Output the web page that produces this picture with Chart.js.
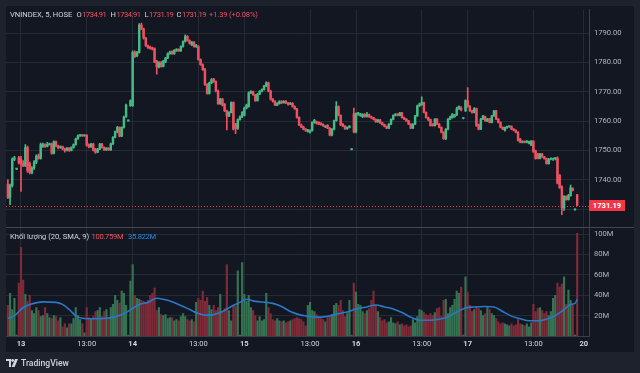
<!DOCTYPE html>
<html>
<head>
<meta charset="utf-8">
<title>VNINDEX, 5, HOSE</title>
<script src="https://cdn.jsdelivr.net/npm/chart.js@4.4.1/dist/chart.umd.min.js"></script>
<style>
  html, body { margin: 0; padding: 0; background: #1e222d; }
  #wrap { position: relative; width: 640px; height: 373px; overflow: hidden; font-family: Roboto, "Noto Sans", sans-serif; }
  #panel { position: absolute; left: 6px; top: 6px; width: 628px; height: 346px; background: #131722; }
  #chart { position: absolute; left: 0; top: 0; }
  .txt { position: absolute; font-size: 7.6px; line-height: 10px; white-space: nowrap; color: #d1d4dc; }
  .val { letter-spacing: -0.5px; margin-left: 0.5px; }
  .dn { color: #f0505f; }
  .ma { color: #2c86dc; }
  #last { position: absolute; left: 589px; width: 36px; height: 11px; background: #f23645; color: #fff;
          font-size: 7.6px; font-weight: bold; line-height: 11px; text-align: center; }
  #brand { position: absolute; left: 6px; top: 357px; height: 11px; display: flex; align-items: center; gap: 3px;
           color: #d1d4dc; font-size: 8.6px; font-weight: 500; }
</style>
</head>
<body>
<div id="wrap">
  <div id="panel"></div>
  <canvas id="chart" width="640" height="373"></canvas>

  <div class="txt" style="left:10px;top:10px">VNINDEX, 5, HOSE</div>
  <div class="txt" style="left:76.5px;top:10px">O<span class="dn val">1734.91</span></div>
  <div class="txt" style="left:110.5px;top:10px">H<span class="dn val">1734.91</span></div>
  <div class="txt" style="left:144.5px;top:10px">L<span class="dn val">1731.19</span></div>
  <div class="txt" style="left:176.5px;top:10px">C<span class="dn val">1731.19</span></div>
  <div class="txt dn" style="left:209px;top:10px;letter-spacing:-0.15px">+1.39 (+0.08%)</div>

  <div class="txt" style="left:10px;top:232px">Khối lượng (20, SMA, 9)</div>
  <div class="txt dn" style="left:91.5px;top:232px;letter-spacing:-0.3px">100.759M</div>
  <div class="txt ma" style="left:128px;top:232px;letter-spacing:-0.3px">35.822M</div>

  <div id="last">1731.19</div>

  <div id="brand">
    <svg width="12" height="8" viewBox="0 0 12 8">
      <path d="M0 0h5v8H3V2H0z" fill="#d1d4dc"/>
      <circle cx="6.6" cy="1.5" r="1.4" fill="#d1d4dc"/>
      <path d="M9 0h3l-3.4 8H5.6z" fill="#d1d4dc"/>
    </svg>
    <span>TradingView</span>
  </div>
</div>

<script>
// bar 0 = last 6 bars of the 10th, then 51 five-minute bars per day (13, 14, 15, 16, 17)
const opens = [
  1738.5,1734.0,1738.0,1747.0,1743.6,1747.5,
  // 13
  1747.0,1745.5,1744.8,1751.0,1745.5,1742.5,1744.0,1746.0,1748.2,1747.3,
  1751.5,1752.0,1751.4,1752.0,1752.2,1749.0,1753.0,1751.5,1751.0,1751.3,
  1750.5,1750.0,1750.8,1750.0,1751.0,1752.0,1754.0,1755.0,1755.2,1755.0,
  1755.2,1752.0,1751.2,1752.2,1750.5,1749.4,1750.5,1752.2,1751.0,1750.2,
  1750.8,1750.2,1752.3,1754.5,1756.4,1757.9,1754.9,1757.9,1761.5,1760.1,
  1765.3,
  // 14
  1765.3,1783.5,1782.3,1783.5,1792.8,1791.5,1788.3,1785.7,1785.3,1785.0,
  1784.8,1780.5,1778.5,1780.0,1778.7,1780.2,1781.5,1783.0,1783.8,1783.0,
  1784.0,1784.5,1784.0,1785.5,1787.2,1789.0,1787.5,1786.0,1787.0,1785.5,
  1785.5,1781.0,1779.3,1777.6,1772.5,1769.5,1773.1,1774.4,1773.5,1770.3,
  1766.0,1767.5,1765.8,1763.5,1761.8,1763.0,1766.3,1759.0,1757.5,1760.5,
  1761.5,
  // 15
  1762.0,1764.5,1765.0,1769.7,1770.1,1769.0,1767.0,1769.2,1770.2,1770.8,
  1772.0,1773.1,1770.3,1767.5,1766.8,1765.5,1766.0,1766.8,1766.3,1766.8,
  1766.2,1765.8,1766.1,1765.0,1764.2,1761.3,1758.7,1758.0,1757.3,1756.5,
  1756.2,1756.8,1759.5,1759.8,1759.6,1759.3,1758.9,1758.0,1758.6,1757.6,
  1755.3,1757.3,1760.2,1765.0,1762.0,1759.0,1758.3,1757.4,1757.9,1750.3,
  1762.5,
  // 16
  1756.3,1762.5,1762.0,1761.5,1762.3,1761.6,1762.2,1761.5,1761.1,1760.6,
  1759.8,1760.4,1759.4,1758.8,1758.2,1757.6,1759.0,1760.6,1762.0,1762.4,
  1762.0,1762.8,1761.2,1760.7,1760.1,1759.0,1757.6,1759.0,1761.8,1765.2,
  1765.6,1766.3,1763.0,1761.2,1760.5,1759.0,1758.5,1760.7,1759.0,1757.9,
  1756.2,1754.0,1757.3,1760.7,1761.2,1761.5,1762.1,1764.2,1764.5,1760.9,
  1763.5,
  // 17
  1767.0,1765.0,1763.5,1763.0,1764.3,1758.8,1757.3,1760.7,1761.5,1760.0,
  1760.8,1759.6,1761.8,1763.5,1760.7,1759.6,1757.9,1756.8,1757.9,1758.1,
  1758.2,1757.3,1756.9,1756.2,1753.9,1752.8,1753.1,1752.8,1752.4,1751.8,
  1753.2,1749.9,1748.8,1747.3,1748.8,1747.8,1747.2,1745.5,1747.0,1747.0,
  1747.2,1747.4,1741.6,1737.6,1730.4,1734.3,1733.2,1734.6,1737.0,1729.7,
  1734.91
];
const highs = [
  1740.0,1738.5,1747.5,1748.0,1743.8,1748.0,
  1748.0,1746.5,1752.0,1751.5,1746.0,1744.5,1746.5,1748.5,1748.8,1752.5,
  1752.5,1752.3,1752.8,1752.5,1752.5,1753.3,1753.2,1751.8,1751.6,1751.5,
  1750.8,1751.0,1751.0,1751.2,1752.3,1754.2,1755.3,1755.5,1755.4,1755.3,
  1755.4,1752.3,1752.4,1752.4,1750.7,1750.7,1752.4,1752.4,1751.2,1751.0,
  1751.0,1752.5,1754.7,1756.6,1758.2,1758.1,1758.1,1761.7,1765.8,1760.3,
  1767.3,
  1784.0,1784.0,1783.8,1793.3,1793.5,1791.8,1788.6,1786.0,1785.6,1785.3,
  1785.0,1780.8,1780.3,1780.3,1780.8,1781.8,1783.3,1783.9,1784.0,1784.4,
  1784.8,1784.7,1785.7,1787.4,1789.5,1789.2,1787.8,1787.2,1787.2,1786.2,
  1785.8,1781.3,1779.6,1778.0,1772.8,1773.3,1774.5,1774.6,1773.8,1770.6,
  1767.8,1767.8,1766.0,1763.8,1763.3,1766.6,1766.6,1759.3,1760.8,1761.8,
  1763.3,
  1764.8,1765.8,1770.0,1770.4,1770.3,1769.2,1769.5,1770.4,1771.0,1772.2,
  1773.4,1773.3,1770.5,1767.7,1767.0,1766.3,1767.0,1767.0,1767.0,1767.0,
  1766.4,1766.3,1766.3,1765.2,1764.4,1761.5,1759.0,1758.3,1757.5,1757.2,
  1757.0,1759.8,1760.6,1760.0,1759.8,1759.5,1759.1,1758.5,1758.8,1757.8,
  1757.5,1760.4,1766.7,1765.2,1762.2,1759.2,1758.5,1758.1,1758.5,1750.5,
  1764.5,
  1762.8,1763.0,1762.7,1762.6,1762.6,1763.0,1762.4,1761.7,1761.3,1760.8,
  1760.6,1760.6,1759.6,1759.0,1758.4,1759.2,1760.8,1762.2,1762.6,1762.6,
  1763.0,1763.0,1761.4,1760.9,1760.3,1759.2,1759.2,1762.0,1765.5,1766.2,
  1768.3,1766.5,1763.2,1761.4,1760.7,1759.2,1760.9,1760.9,1759.2,1758.1,
  1756.4,1757.5,1760.9,1761.7,1762.6,1762.3,1764.8,1765.2,1765.0,1761.2,
  1767.3,
  1771.5,1765.3,1763.8,1764.6,1764.5,1759.0,1761.0,1762.0,1761.7,1761.0,
  1761.0,1762.0,1763.7,1763.7,1760.9,1759.8,1758.1,1758.0,1758.3,1758.4,
  1758.4,1757.5,1757.1,1756.4,1754.1,1753.3,1753.3,1753.4,1753.2,1753.4,
  1753.4,1750.1,1749.0,1749.0,1749.0,1748.0,1747.4,1747.3,1747.5,1747.4,
  1747.6,1747.8,1741.8,1737.9,1734.6,1734.5,1735.0,1738.2,1737.2,1729.9,
  1734.91
];
const lows = [
  1733.5,1731.5,1737.5,1746.5,1743.4,1745.3,
  1736.0,1744.5,1744.5,1742.5,1742.0,1742.0,1743.5,1745.5,1747.0,1747.0,
  1751.0,1751.0,1751.2,1751.8,1748.7,1748.8,1751.2,1750.5,1750.7,1750.2,
  1749.4,1749.8,1749.7,1749.8,1750.8,1751.8,1753.8,1754.8,1754.8,1754.9,
  1751.5,1750.9,1751.0,1749.8,1749.0,1749.2,1750.3,1750.8,1750.0,1750.0,
  1750.0,1750.0,1752.0,1754.3,1756.0,1754.6,1754.7,1757.6,1761.3,1760.0,
  1765.0,
  1765.0,1781.8,1782.0,1783.2,1791.2,1788.0,1785.5,1784.8,1784.6,1784.3,
  1780.0,1776.0,1778.2,1778.4,1778.5,1780.0,1781.3,1782.8,1782.8,1782.8,
  1783.8,1783.8,1783.8,1785.3,1787.0,1787.3,1786.3,1785.8,1785.3,1785.2,
  1780.8,1779.0,1777.3,1772.2,1769.2,1769.2,1772.8,1773.2,1770.0,1765.7,
  1765.7,1765.2,1763.2,1757.0,1761.5,1762.8,1757.0,1755.7,1757.2,1760.3,
  1761.2,
  1761.8,1764.2,1764.8,1769.4,1768.8,1766.7,1766.8,1769.0,1770.0,1770.6,
  1771.8,1770.0,1767.2,1766.5,1765.3,1765.3,1765.8,1766.0,1766.1,1766.0,
  1765.5,1765.6,1764.8,1764.0,1761.0,1758.5,1757.8,1757.0,1756.5,1756.2,
  1755.9,1756.6,1759.3,1759.0,1758.8,1758.6,1758.2,1757.8,1757.4,1755.0,
  1755.0,1757.0,1760.0,1761.8,1758.5,1758.0,1757.2,1757.2,1757.7,1750.2,
  1756.0,
  1756.0,1762.0,1761.6,1761.2,1761.4,1761.4,1761.3,1760.9,1760.4,1759.6,
  1759.6,1759.2,1758.6,1758.0,1757.4,1757.4,1758.8,1760.4,1761.8,1761.8,
  1761.8,1761.0,1760.5,1759.9,1758.8,1757.4,1757.4,1758.8,1761.6,1765.0,
  1765.4,1762.8,1761.0,1760.2,1758.3,1758.3,1758.3,1758.8,1757.7,1756.0,
  1753.8,1753.7,1757.0,1760.5,1761.0,1761.3,1761.9,1764.0,1763.5,1760.8,
  1763.3,
  1764.8,1763.3,1762.7,1762.8,1758.2,1757.0,1757.1,1760.5,1759.9,1759.8,
  1759.4,1759.4,1761.6,1760.5,1759.4,1757.7,1757.1,1756.6,1757.5,1757.9,
  1757.1,1756.7,1756.0,1753.2,1752.6,1752.6,1752.6,1752.6,1752.2,1751.6,
  1749.3,1747.0,1747.1,1747.1,1747.6,1747.0,1745.3,1745.3,1746.8,1746.6,
  1746.8,1738.6,1737.0,1728.1,1729.5,1733.0,1733.0,1734.4,1736.2,1729.6,
  1731.19
];
const closes = [
  1734.0,1738.0,1747.0,1747.5,1743.7,1745.8,
  1745.5,1744.8,1751.0,1743.0,1742.5,1744.0,1746.0,1748.0,1747.3,1752.0,
  1752.0,1751.4,1752.0,1752.3,1749.0,1753.0,1751.5,1751.0,1751.3,1750.5,
  1750.0,1750.8,1750.0,1751.0,1752.0,1754.0,1755.0,1755.2,1755.0,1755.2,
  1751.8,1751.2,1752.2,1750.0,1749.4,1750.5,1752.2,1751.0,1750.2,1750.8,
  1750.2,1752.3,1754.5,1756.4,1757.9,1754.9,1757.9,1761.5,1765.5,1760.2,
  1767.0,
  1783.5,1782.0,1783.5,1792.8,1791.5,1788.3,1785.7,1785.0,1784.9,1784.6,
  1780.2,1778.5,1780.0,1778.7,1780.5,1781.5,1783.0,1783.6,1783.0,1784.2,
  1784.5,1784.0,1785.5,1787.2,1789.0,1787.5,1786.5,1787.0,1785.5,1785.9,
  1781.0,1779.3,1777.6,1772.5,1769.5,1773.1,1774.2,1773.5,1770.3,1766.0,
  1767.5,1765.5,1763.5,1761.8,1763.0,1766.3,1757.3,1757.5,1760.5,1761.5,
  1763.0,
  1764.5,1765.5,1769.7,1770.1,1769.0,1767.0,1769.2,1770.2,1770.8,1772.0,
  1773.1,1770.3,1767.5,1766.8,1765.5,1766.0,1766.8,1766.3,1766.8,1766.2,
  1765.8,1766.1,1765.0,1764.2,1761.3,1758.7,1758.0,1757.3,1756.8,1757.0,
  1756.8,1759.6,1760.3,1759.2,1759.0,1758.8,1758.4,1758.3,1757.6,1755.3,
  1757.3,1760.2,1765.0,1762.0,1758.7,1758.3,1757.4,1757.9,1758.3,1750.4,
  1756.3,
  1762.5,1762.8,1762.4,1762.3,1761.6,1762.2,1761.5,1761.1,1760.6,1759.8,
  1760.4,1759.4,1758.8,1758.2,1757.6,1759.0,1760.6,1762.0,1762.4,1762.0,
  1762.8,1761.2,1760.7,1760.1,1759.0,1757.6,1759.0,1761.8,1765.2,1765.8,
  1766.3,1763.0,1761.2,1760.5,1758.5,1758.5,1760.7,1759.0,1757.9,1756.2,
  1754.0,1757.3,1760.7,1761.5,1762.4,1762.1,1764.2,1765.0,1763.8,1761.0,
  1767.0,
  1765.0,1763.5,1763.0,1764.3,1758.5,1757.3,1760.7,1761.8,1760.2,1760.8,
  1759.6,1761.8,1763.5,1760.7,1759.6,1757.9,1757.3,1757.9,1758.1,1758.2,
  1757.3,1756.9,1756.2,1753.4,1752.8,1753.1,1752.8,1753.2,1753.0,1753.2,
  1749.5,1747.2,1747.3,1748.8,1747.8,1747.2,1745.5,1747.0,1747.3,1747.2,
  1747.4,1738.8,1737.3,1730.4,1734.3,1733.2,1734.6,1737.2,1736.4,1729.8,
  1731.19
];
// volume, millions
const volumes = [
  30,42,26,37,1,52,
  87,55,41,34,40,25,22,28,25,19, 20,28,22,18,17,20,19,15,18,9,
  12,8,12,12,17,28,20,16,12,3, 28,18,17,19,24,25,28,19,24,26,
  18,28,31,40,35,32,44,42,30,1, 54,
  70,40,37,36,35,34,32,35,40,42, 47,25,28,21,20,21,17,18,18,15,
  16,15,19,22,19,16,15,16,14,33, 37,35,44,34,38,30,26,30,25,28,
  41,24,27,70,25,15,30,29,64,1, 72,
  41,34,40,28,25,20,15,19,15,16, 42,28,22,16,15,17,15,14,15,13,
  14,15,16,17,18,17,16,14,10,30, 33,25,24,21,18,17,16,14,18,20,
  21,30,32,30,35,25,19,22,35,1, 52,
  43,31,30,24,22,25,27,35,44,30, 24,18,15,16,13,14,18,13,12,14,
  11,12,10,11,9,10,16,13,19,26, 25,23,21,20,22,20,23,27,28,19,
  35,36,22,28,30,36,44,42,48,1, 58,
  43,30,24,26,29,27,25,20,22,28, 26,22,20,17,14,12,13,12,11,10,
  12,10,11,16,12,11,10,12,9,13, 31,24,27,28,25,22,24,20,24,37,
  40,52,48,51,58,31,45,35,30,1, 100.759
];
// volume SMA(20) at these bars
const smaIdx = [0,3,7,10,16,22,25,28,31,34,40,45,50,53,57,60,64,68,71,75,79,83,87,90,94,98,102,106,109,113,
  118,121,125,129,133,137,141,145,150,155,159,164,168,172,176,180,184,188,193,197,201,205,209,213,218,222,226,
  230,234,238,242,246,250,254,257,259,260];
const smaVals = [17.5,20,28,31,33.5,33,31,26,20,17.5,17,17.5,19.5,22,27,31,33,37,36,33.5,30,26,22,20.5,21,24,29,33,36,34,
  33,32,29,24,21,19.5,18.5,19,21.5,23.5,26.5,28.5,30.5,28.5,26.5,23,18.5,15.5,15.5,16.5,19,23.5,27.5,28.5,29,28.5,24,
  19.5,17,15,15,16.5,20,26,31,32,35.822];

const tickIdx = [6, 36, 57, 87, 108, 138, 159, 189, 210, 240, 263];
const tickLabels = ['13', '13:00', '14', '13:00', '15', '13:00', '16', '13:00', '17', '13:00', '20'];
const priceTicks = [1730, 1740, 1750, 1760, 1770, 1780, 1790];
const volTicks = [20, 40, 60, 80, 100];

const upColor = '#43bb85';
const downColor = '#ee5262';
const upVol = '#367353';
const downVol = '#7e2b39';
const gridColor = '#262a35';
const axisColor = '#3b3f4a';
const FONT = 'Roboto';

const isUp = opens.map((o, i) => closes[i] >= o);
const candleColors = isUp.map(u => u ? upColor : downColor);
const volColors = isUp.map(u => u ? upVol : downVol);

const overlay = {
  id: 'overlay',
  beforeDatasetsDraw(chart) {
    const { ctx, chartArea, scales } = chart;
    const y = Math.round(scales.y.getPixelForValue(closes[closes.length - 1])) + 0.5;
    ctx.save();
    ctx.strokeStyle = '#f23645';
    ctx.lineWidth = 1;
    ctx.setLineDash([1, 2]);
    ctx.beginPath();
    ctx.moveTo(chartArea.left, y);
    ctx.lineTo(chartArea.right, y);
    ctx.stroke();
    ctx.restore();
  },
  afterDraw(chart) {
    const { ctx, chartArea, scales } = chart;
    const y = Math.round(scales.yv.top) + 0.5;
    ctx.save();
    ctx.strokeStyle = '#434651';
    ctx.lineWidth = 1;
    ctx.beginPath();
    ctx.moveTo(chartArea.left, y);
    ctx.lineTo(scales.yv.right, y);
    ctx.stroke();
    ctx.restore();
  }
};

const chart = new Chart(document.getElementById('chart'), {
  type: 'bar',
  data: {
    datasets: [
      {
        label: 'body',
        data: opens.map((o, i) => ({ x: i, y: [o, closes[i]] })),
        backgroundColor: candleColors,
        barThickness: 1.8, maxBarThickness: 1.8,
        minBarLength: 1,
        grouped: false,
        yAxisID: 'y'
      },
      {
        label: 'wick',
        data: lows.map((l, i) => ({ x: i, y: [l, highs[i]] })),
        backgroundColor: candleColors,
        barThickness: 1, maxBarThickness: 1,
        minBarLength: 1,
        grouped: false,
        yAxisID: 'y'
      },
      {
        type: 'line',
        label: 'SMA 20',
        data: smaIdx.map((x, k) => ({ x: x, y: smaVals[k] })),
        borderColor: '#2a78c8',
        borderWidth: 1.6,
        pointRadius: 0,
        cubicInterpolationMode: 'monotone',
        yAxisID: 'yv'
      },
      {
        label: 'volume',
        data: volumes.map((v, i) => ({ x: i, y: v })),
        backgroundColor: volColors,
        barThickness: 1.5, maxBarThickness: 1.5,
        grouped: false,
        yAxisID: 'yv'
      }
    ]
  },
  options: {
    responsive: false,
    animation: false,
    devicePixelRatio: 1,
    layout: { padding: { left: 6, top: 6, right: 6, bottom: 21 } },
    plugins: { legend: { display: false }, tooltip: { enabled: false } },
    scales: {
      x: {
        type: 'linear',
        position: 'bottom',
        min: -0.85,
        max: 265.4,
        offset: false,
        grid: { color: gridColor, drawTicks: false, offset: false },
        border: { color: axisColor },
        afterBuildTicks: s => { s.ticks = tickIdx.map(v => ({ value: v })); },
        afterFit: s => { s.height = 16; },
        ticks: {
          color: '#d1d4dc',
          padding: 4,
          maxRotation: 0,
          autoSkip: false,
          callback: (v, i) => tickLabels[i],
          font: c => ({ family: FONT, size: 7.6,
            weight: (tickLabels[c.index] || '').includes(':') ? 'normal' : 'bold' })
        }
      },
      y: {
        type: 'linear',
        position: 'right',
        stack: 'panes',
        stackWeight: 2,
        min: 1723.8,
        max: 1798.1,
        grid: { color: gridColor, drawTicks: false },
        border: { color: axisColor },
        afterBuildTicks: s => { s.ticks = priceTicks.map(v => ({ value: v })); },
        afterFit: s => { s.width = 45; },
        ticks: { color: '#b2b5be', padding: 5, font: { family: FONT, size: 7.6 },
          callback: v => v.toFixed(2) }
      },
      yv: {
        type: 'linear',
        position: 'right',
        stack: 'panes',
        stackWeight: 1,
        min: 0,
        max: 106.8,
        grid: { color: gridColor, drawTicks: false },
        border: { color: axisColor },
        afterBuildTicks: s => { s.ticks = volTicks.map(v => ({ value: v })); },
        afterFit: s => { s.width = 45; },
        ticks: { color: '#b2b5be', padding: 5, font: { family: FONT, size: 7.6 },
          callback: v => v + 'M' }
      }
    }
  },
  plugins: [overlay]
});

// price tag on the axis, at the last close
const yLast = chart.scales.y.getPixelForValue(closes[closes.length - 1]);
document.getElementById('last').style.top = (yLast - 5.5) + 'px';
</script>
</body>
</html>
